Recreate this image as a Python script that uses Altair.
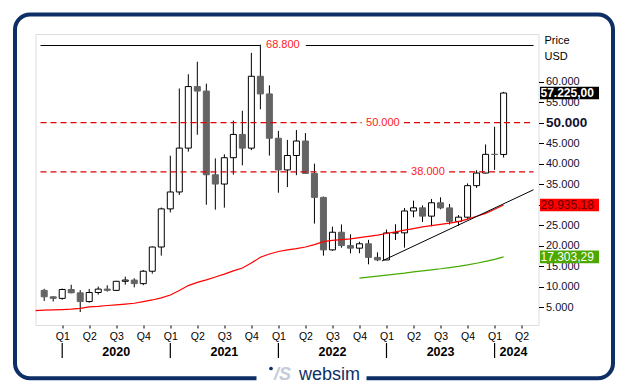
import altair as alt
import pandas as pd

# Monthly BTC/USD candles, Nov 2019 .. Feb 2024 (month index 0 = Nov 2019)
opens = [9140, 7570, 7190, 9350, 8540, 6410, 8620, 9450, 9140, 11350, 11650, 10780,
         13800, 19700, 28990, 33110, 43800, 58790, 57700, 37300, 35040, 41460, 47130, 43790,
         61300, 57000, 46200, 38480, 42000, 45530, 37640, 31790, 19000, 23300, 20050, 19420,
         20490, 17170, 16550, 23130, 23150, 28480, 29250, 27220, 30480, 29230, 25940, 26970,
         34650, 37720, 42280, 42250]
highs = [9510, 7750, 9580, 10500, 9190, 9480, 10080, 10380, 11450, 12480, 12080, 14100,
         19860, 29300, 41950, 58330, 61780, 64850, 59500, 41300, 42300, 50500, 52900, 67000,
         69000, 59100, 47990, 45800, 48200, 47450, 40000, 31990, 24650, 25200, 22780, 20990,
         21450, 18390, 23950, 25250, 29190, 31000, 29830, 31400, 31800, 30200, 27480, 35200,
         38400, 44700, 49000, 57500]
lows = [6540, 6430, 6860, 8440, 3850, 6150, 8100, 8830, 8970, 10520, 9880, 10400,
        13220, 17600, 28130, 32380, 42950, 47050, 30000, 28800, 29300, 37330, 39600, 43300,
        53250, 41970, 32930, 34300, 37200, 37700, 25400, 17600, 18780, 19540, 18150, 18200,
        15480, 16260, 16500, 21400, 19550, 26950, 25800, 24750, 28900, 25200, 24900, 26540,
        34100, 37600, 38500, 41500]
closes = [7570, 7190, 9350, 8540, 6410, 8620, 9450, 9140, 11350, 11650, 10780, 13800,
          19700, 28990, 33110, 43800, 58790, 57700, 37300, 35040, 41460, 47130, 43790, 61300,
          57000, 46200, 38480, 42000, 45530, 37640, 31790, 19000, 23300, 20050, 19420, 20490,
          17170, 16550, 23130, 23150, 28480, 29250, 27220, 30480, 29230, 25940, 26970, 34650,
          37720, 42280, 42250, 57225]

# Red moving average, months -1 .. 51
ma_red = [4200, 4300, 4380, 4450, 4550, 4750, 5100, 5250, 5450, 5620, 5800, 6000,
          6400, 6800, 7300, 8000, 9100, 10300, 11100, 11700, 12400, 13100, 13900, 14600,
          15800, 17200, 18000, 18600, 19000, 19300, 19700, 20300, 21000, 21300, 21500, 21700,
          22000, 22300, 22600, 23000, 23400, 23800, 24200, 24600, 24900, 25200, 25500, 25900,
          26500, 27200, 27900, 28900, 29935]
ma_red_start = -1
# Green moving average, months 35 .. 51
ma_green = [12100, 12350, 12600, 12850, 13100, 13350, 13650, 13900, 14150, 14400,
            14700, 15000, 15350, 15750, 16200, 16700, 17303]
ma_green_start = 35

# Support trendline (two anchor points)
trend_months = [37.5, 54.32]
trend_values = [16300, 33650]

# Horizontal levels
level_values = [68800, 50000, 38000]
level_texts = ["68.800", "50.000", "38.000"]
level_label_months = [26.5, 37.6, 42.6]
level_gap = [2.55, 2.35, 2.35]

quarter_months = list(range(2, 54, 3))
year_labels = ["2020", "2021", "2022", "2023", "2024"]
year_tick_months = [2, 14, 26, 38, 50]
year_label_months = [8, 20, 32, 44, 52.1]

y_ticks = list(range(5000, 60001, 5000))

tag_values = [57225.00, 29935.18, 17303.29]
tag_texts = ["57.225,00", "29.935,18", "17.303,29"]
tag_bg = ["#000000", "#ff0000", "#4ca800"]
tag_fg = ["#ffffff", "#6a0000", "#ffffff"]
tag_bold = [True, False, False]

X_DOMAIN = [-0.41, 54.32]
Y_DOMAIN = [700, 71600]
W, H = 503, 291
FONT = "Liberation Sans"

xs = alt.Scale(domain=X_DOMAIN, nice=False, zero=False)
ys = alt.Scale(domain=Y_DOMAIN, nice=False, zero=False)

x_axis = alt.Axis(values=quarter_months, grid=False, domain=False, tickSize=3,
                  tickColor="#000000", labelExpr="'Q' + ((((datum.value - 2) / 3) % 4) + 1)",
                  labelFont=FONT, labelFontSize=10.5, labelColor="#000000", labelPadding=3,
                  title=None, labelFlush=False)
y_axis = alt.Axis(orient="right", values=y_ticks, grid=False, domain=False, tickSize=5,
                  tickColor="#000000", title=None, labelPadding=2,
                  labelExpr="replace(format(datum.value, ','), ',', '.')",
                  labelFont=FONT, labelColor="#101030",
                  labelFontSize={"condition": {"test": "datum.value == 50000", "value": 13.5}, "value": 11},
                  labelFontWeight={"condition": {"test": "datum.value == 50000", "value": "bold"}, "value": "normal"},
                  labelFlush=False, labelOverlap=False)


def X(field):
    return alt.X(field, scale=xs, axis=x_axis)


def Y(field):
    return alt.Y(field, scale=ys, axis=y_axis)


candles = pd.DataFrame({
    "m": list(range(len(opens))),
    "open": opens, "high": highs, "low": lows, "close": closes,
})

wicks = alt.Chart(candles).mark_rule(color="#000000", strokeWidth=1).encode(
    x=X("m:Q"), y=Y("low:Q"), y2="high:Q")

bodies = alt.Chart(candles).mark_bar(width=6, strokeWidth=1).encode(
    x=X("m:Q"), y=Y("open:Q"), y2="close:Q",
    fill=alt.condition("datum.close > datum.open", alt.value("#ffffff"), alt.value("#646464")),
    stroke=alt.condition("datum.close > datum.open", alt.value("#000000"), alt.value("#646464")),
)

red_df = pd.DataFrame({"m": [ma_red_start + i for i in range(len(ma_red))], "v": ma_red})
red_line = alt.Chart(red_df).mark_line(color="#ff0000", strokeWidth=1.2, clip=True).encode(
    x=X("m:Q"), y=Y("v:Q"))

green_df = pd.DataFrame({"m": [ma_green_start + i for i in range(len(ma_green))], "v": ma_green})
green_line = alt.Chart(green_df).mark_line(color="#44aa00", strokeWidth=1.2, clip=True).encode(
    x=X("m:Q"), y=Y("v:Q"))

trend_df = pd.DataFrame({"m": trend_months, "v": trend_values})
trend = alt.Chart(trend_df).mark_line(color="#000000", strokeWidth=1, clip=True).encode(
    x=X("m:Q"), y=Y("v:Q"))

seg_rows = []
for v, lm, g in zip(level_values, level_label_months, level_gap):
    seg_rows.append({"v": v, "x1": X_DOMAIN[0], "x2": lm - g})
    seg_rows.append({"v": v, "x1": lm + g, "x2": X_DOMAIN[1]})
seg_df = pd.DataFrame(seg_rows)
solid_levels = alt.Chart(seg_df).transform_filter("datum.v > 60000").mark_rule(
    color="#000000", strokeWidth=1.2).encode(x=X("x1:Q"), x2="x2:Q", y=Y("v:Q"))
dashed_levels = alt.Chart(seg_df).transform_filter("datum.v < 60000").mark_rule(
    color="#e00000", strokeWidth=1.2, strokeDash=[6, 4]).encode(x=X("x1:Q"), x2="x2:Q", y=Y("v:Q"))

lvl_df = pd.DataFrame({"m": level_label_months, "v": level_values, "t": level_texts})
level_text = alt.Chart(lvl_df).mark_text(color="#ff2020", font=FONT, fontSize=11,
                                          baseline="middle", align="center").encode(
    x=X("m:Q"), y=Y("v:Q"), text="t:N")

ytick_df = pd.DataFrame({"m": year_tick_months})
year_ticks = alt.Chart(ytick_df).mark_rule(color="#000000", strokeWidth=1.2).encode(
    x=X("m:Q"), y=alt.value(H + 18), y2=alt.value(H + 33))
ylab_df = pd.DataFrame({"m": year_label_months, "t": year_labels})
year_text = alt.Chart(ylab_df).mark_text(font=FONT, fontSize=12.5, fontWeight="bold",
                                          color="#000000", baseline="middle").encode(
    x=X("m:Q"), y=alt.value(H + 27), text="t:N")

tag_df = pd.DataFrame({"v": tag_values, "t": tag_texts, "bg": tag_bg, "fg": tag_fg, "b": tag_bold})
tag_rect = alt.Chart(tag_df).transform_calculate(
    lo="datum.v - 1530", hi="datum.v + 1530").mark_rect().encode(
    x=alt.value(W + 1.5), x2=alt.value(W + 60.5),
    y=Y("lo:Q"), y2="hi:Q",
    fill=alt.Color("bg:N", scale=None))
tag_text_b = alt.Chart(tag_df).transform_filter("datum.b").mark_text(
    font=FONT, fontSize=12, fontWeight="bold", align="left", baseline="middle").encode(
    x=alt.value(W + 2), y=Y("v:Q"), text="t:N",
    color=alt.Color("fg:N", scale=None))
tag_text_n = alt.Chart(tag_df).transform_filter("!datum.b").mark_text(
    font=FONT, fontSize=12, align="left", baseline="middle").encode(
    x=alt.value(W + 2), y=Y("v:Q"), text="t:N",
    color=alt.Color("fg:N", scale=None))

one = pd.DataFrame({"a": [0]})
head_price = alt.Chart(one).mark_text(text="Price", font=FONT, fontSize=11, align="left",
                                      baseline="middle", color="#000000").encode(
    x=alt.value(W + 6), y=alt.value(7))
head_usd = alt.Chart(one).mark_text(text="USD", font=FONT, fontSize=11, align="left",
                                    baseline="middle", color="#000000").encode(
    x=alt.value(W + 6), y=alt.value(23))

frame = alt.Chart(one).mark_rect(fillOpacity=0, stroke="#0e2f66", strokeWidth=4,
                                 cornerRadius=15).encode(
    x=alt.value(-20.5), x2=alt.value(577.5), y=alt.value(-19.5), y2=alt.value(344.2))
gap = alt.Chart(one).mark_rect(fill="#ffffff").encode(
    x=alt.value(221), x2=alt.value(331), y=alt.value(336), y2=alt.value(352))
logo_icon = alt.Chart(one).mark_text(text="/S", font=FONT, fontSize=18, fontWeight="bold",
                                     fontStyle="italic", color="#c3ccd8", align="center",
                                     baseline="alphabetic").encode(
    x=alt.value(247), y=alt.value(346))
logo_dot = alt.Chart(one).mark_point(filled=True, size=14, color="#0e2f66", opacity=1).encode(
    x=alt.value(235.5), y=alt.value(334.5))
logo_text = alt.Chart(one).mark_text(text="websim", font=FONT, fontSize=18,
                                     color="#0e2f66", align="center", baseline="alphabetic").encode(
    x=alt.value(294), y=alt.value(346))

chart = alt.layer(
    wicks, bodies, red_line, green_line, trend, solid_levels, dashed_levels, level_text,
    year_ticks, year_text, tag_rect, tag_text_b, tag_text_n, head_price, head_usd,
    frame, gap, logo_icon, logo_dot, logo_text,
).properties(
    width=W, height=H,
    autosize=alt.AutoSizeParams(type="none"),
    padding={"left": 27.5, "top": 26, "right": 80, "bottom": 59},
).configure_view(
    stroke="#8c8c9c", strokeWidth=1
).configure(background="#ffffff")

chart.save("out.html", embed_options={"renderer": "svg", "actions": False})
